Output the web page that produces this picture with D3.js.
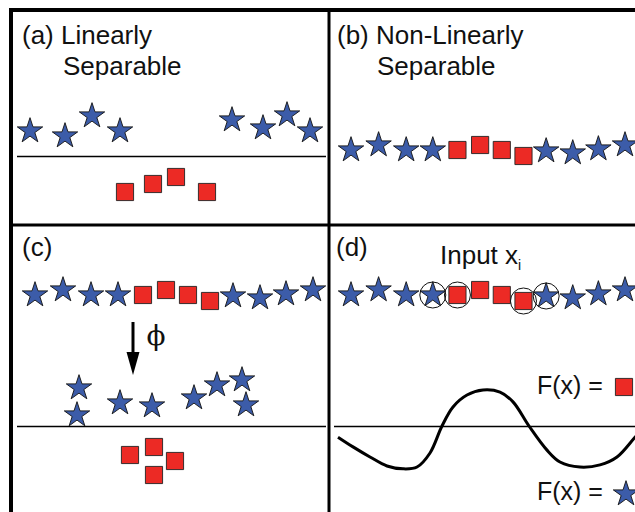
<!DOCTYPE html>
<html>
<head>
<meta charset="utf-8">
<script src="https://cdn.jsdelivr.net/npm/d3@7"></script>
<style>
  body { margin: 0; background: #fff; }
  svg { display: block; }
  text { font-family: "Liberation Sans", Arial, Helvetica, sans-serif; fill: #111; }
</style>
</head>
<body>
<div id="chart"></div>
<script>
// ---- data (panel-relative units) ----
// (a) linearly separable
const aStars   = [[19,121],[54,126],[81,106],[109,121],[221,110],[252,118],[276,105],[299,121]];
const aSquares = [[114,182],[142,174],[165,167],[196,182]];
const aLineY   = 146;

// 1-D row shared by (b), (c), (d)
const rowX     = [24, 52, 80, 107, 132, 155, 177, 199, 222, 249, 275, 302];
const rowLift  = [0, 5, 0, 0, 0, 5, 0, -6, -1, -3, 1, 5];
const rowClass = ["star","star","star","star","sq","sq","sq","sq","star","star","star","star"];
const circled  = [3, 4, 7, 8];   // support vectors in (d)

// (c) mapped by phi
const cStars   = [[68,163],[66,190],[109,178],[141,181],[183,173],[206,160],[231,155],[235,180]];
const cSquares = [[119,230],[143,222],[164,236],[143,250]];
const cLineY   = 201;

// (d) decision function F(x)
const curveX = [9, 24, 41, 58, 74, 88, 101, 113, 124, 138, 154, 171, 184, 200, 218, 231, 251, 271, 288, 306, 319];
const curveF = [-0.31, -0.58, -0.86, -1.11, -1.19, -1.14, -0.75, 0, 0.53, 0.86, 1.0, 0.94, 0.67, 0, -0.67, -1.0, -1.14, -1.08, -0.86, -0.31, 0.11];
const dLineY = 201;

const starBlue = "#3c5ca9";
const sqRed    = "#ec2a25";

// ---- canvas ----
const W = 635, H = 512;
const svg = d3.select("#chart").append("svg")
  .attr("width", W).attr("height", H);

const panels = {
  a: {x: 11,  y: 10},
  b: {x: 329, y: 10},
  c: {x: 11,  y: 225},
  d: {x: 329, y: 225}
};
const PW = 318, PH = 215;

function scalesFor(p) {
  return {
    x: d3.scaleLinear().domain([0, PW]).range([p.x, p.x + PW]),
    y: d3.scaleLinear().domain([0, PH]).range([p.y, p.y + PH])
  };
}

const star = d3.symbol().type(d3.symbolStar).size(200)();
const square = d3.symbol().type(d3.symbolSquare).size(295)();

function drawStars(g, pts, sx, sy) {
  g.selectAll(null).data(pts).enter().append("path")
    .attr("d", star)
    .attr("transform", d => "translate(" + sx(d[0]) + "," + sy(d[1]) + ")")
    .attr("fill", starBlue).attr("stroke", "#111").attr("stroke-width", 0.9);
}
function drawSquares(g, pts, sx, sy) {
  g.selectAll(null).data(pts).enter().append("path")
    .attr("d", square)
    .attr("transform", d => "translate(" + sx(d[0]) + "," + sy(d[1]) + ")")
    .attr("fill", sqRed).attr("stroke", "#222").attr("stroke-width", 0.9);
}
function drawRow(g, sx, baseY) {
  const pts = rowX.map((x, i) => ({x: x, y: baseY - rowLift[i], c: rowClass[i], i: i}));
  drawStars(g, pts.filter(d => d.c == "star").map(d => [d.x, d.y]), sx, v => v);
  drawSquares(g, pts.filter(d => d.c == "sq").map(d => [d.x, d.y]), sx, v => v);
  return pts;
}
function sepLine(g, x1, x2, y) {
  g.append("line")
    .attr("x1", x1).attr("x2", x2).attr("y1", y + 0.5).attr("y2", y + 0.5)
    .attr("stroke", "#000").attr("stroke-width", 1.3);
}

function label(x, y, txt, size) {
  return svg.append("text").attr("x", x).attr("y", y)
    .style("font-size", (size || 26) + "px").text(txt);
}

// ---- panel (a) ----
{
  const s = scalesFor(panels.a);
  const g = svg.append("g");
  sepLine(g, s.x(6), s.x(315), s.y(aLineY));
  drawStars(g, aStars, s.x, s.y);
  drawSquares(g, aSquares, s.x, s.y);
  label(22, 44, "(a) Linearly");
  label(63, 75, "Separable");
}

// ---- panel (b) ----
const bdX = d3.scaleLinear().domain([24, 302]).range([351, 625]);
{
  const g = svg.append("g");
  drawRow(g, bdX, 150);
  label(337, 44, "(b) Non-Linearly");
  label(377, 75, "Separable");
}

// ---- panel (c) ----
{
  const s = scalesFor(panels.c);
  const g = svg.append("g");
  const cRowX = d3.scaleLinear().domain([24, 302]).range([35, 313]);
  drawRow(g, cRowX, 295);

  // phi arrow
  g.append("line")
    .attr("x1", 133).attr("x2", 133).attr("y1", 322).attr("y2", 354)
    .attr("stroke", "#000").attr("stroke-width", 3);
  g.append("path")
    .attr("d", d3.line()([[126.5, 352], [139.5, 352], [133, 375]]) + "Z")
    .attr("fill", "#000");
  svg.append("text").attr("x", 156).attr("y", 345)
    .attr("text-anchor", "middle")
    .style("font-family", "'DejaVu Serif', 'Liberation Serif', serif")
    .style("font-size", "28px").text("\u03D5");

  sepLine(g, s.x(6), s.x(315), s.y(cLineY));
  drawStars(g, cStars, s.x, s.y);
  drawSquares(g, cSquares, s.x, s.y);
  label(22, 256, "(c)");
}

// ---- panel (d) ----
{
  const s = scalesFor(panels.d);
  const g = svg.append("g");
  const pts = drawRow(g, bdX, 295);
  g.selectAll(".sv").data(pts.filter(d => circled.includes(d.i))).enter()
    .append("circle").attr("class", "sv")
    .attr("cx", d => bdX(d.x)).attr("cy", d => d.y).attr("r", 13)
    .attr("fill", "none").attr("stroke", "#111").attr("stroke-width", 1);

  sepLine(g, s.x(5), W, s.y(dLineY));

  const fy = d3.scaleLinear().domain([-1, 1]).range([s.y(dLineY) + 36, s.y(dLineY) - 36]);
  const line = d3.line()
    .x((d, i) => s.x(curveX[i]))
    .y(d => fy(d))
    .curve(d3.curveCatmullRom);
  g.append("path").attr("d", line(curveF))
    .attr("fill", "none").attr("stroke", "#000").attr("stroke-width", 3);

  label(336, 256, "(d)");
  const t = label(440, 264, "Input x");
  t.append("tspan").attr("dy", 6).style("font-size", "14px").text("i");

  label(537, 394, "F(x) =", 25);
  g.append("path").attr("d", square)
    .attr("transform", "translate(624,387)")
    .attr("fill", sqRed).attr("stroke", "#222").attr("stroke-width", 0.9);
  label(537, 500, "F(x) =", 25);
  g.append("path").attr("d", star)
    .attr("transform", "translate(626,494)")
    .attr("fill", starBlue).attr("stroke", "#111").attr("stroke-width", 0.9);
}

// ---- frame ----
svg.append("line").attr("x1", 11).attr("x2", 11).attr("y1", 8).attr("y2", H)
  .attr("stroke", "#000").attr("stroke-width", 4);
svg.append("line").attr("x1", 9).attr("x2", W).attr("y1", 10).attr("y2", 10)
  .attr("stroke", "#000").attr("stroke-width", 4);
svg.append("line").attr("x1", 329).attr("x2", 329).attr("y1", 10).attr("y2", H)
  .attr("stroke", "#000").attr("stroke-width", 3);
svg.append("line").attr("x1", 11).attr("x2", W).attr("y1", 225).attr("y2", 225)
  .attr("stroke", "#000").attr("stroke-width", 3);
</script>
</body>
</html>
